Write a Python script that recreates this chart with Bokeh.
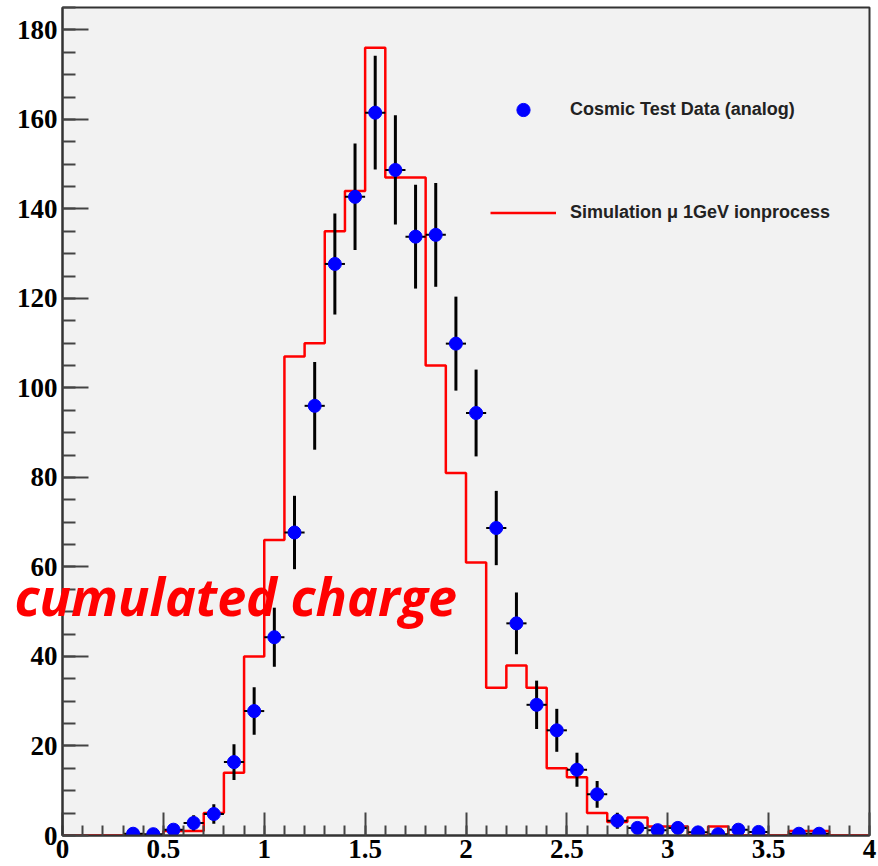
import numpy as np
from bokeh.plotting import figure
from bokeh.models import (SingleIntervalTicker, Legend, LegendItem, Range1d,
                          CustomJSTickFormatter)
from bokeh.core.properties import value
from bokeh.embed import file_html
from bokeh.resources import INLINE

# ---- data ----
bin_edges = np.round(np.arange(41) * 0.1, 1)
sim_counts = [0, 0, 0, 0, 0, 1, 1, 5, 14, 40,
              66, 107, 110, 135, 144, 176, 147, 147, 105, 81,
              61, 33, 38, 33, 15, 13, 5, 3, 4, 2,
              2, 0, 2, 0, 0, 0, 1, 1, 0, 0]
data_x = [0.35, 0.45, 0.55, 0.65, 0.75, 0.85, 0.95, 1.05, 1.15, 1.25,
          1.35, 1.45, 1.55, 1.65, 1.75, 1.85, 1.95, 2.05, 2.15, 2.25,
          2.35, 2.45, 2.55, 2.65, 2.75, 2.85, 2.95, 3.05, 3.15, 3.25,
          3.35, 3.45, 3.65, 3.75]
data_y = [0.4, 0.3, 1.3, 2.8, 4.8, 16.4, 27.8, 44.3, 67.7, 96.0,
          127.7, 142.7, 161.5, 148.7, 133.8, 134.2, 109.9, 94.4, 68.7, 47.4,
          29.2, 23.5, 14.7, 9.2, 3.3, 1.7, 1.2, 1.7, 0.7, 0.3,
          1.3, 0.8, 0.4, 0.4]
data_err = [0.6, 0.5, 1.1, 1.7, 2.2, 4.0, 5.3, 6.6, 8.2, 9.8,
            11.3, 11.9, 12.7, 12.2, 11.6, 11.6, 10.5, 9.7, 8.3, 6.9,
            5.4, 4.8, 3.8, 3.0, 1.8, 1.3, 1.1, 1.3, 0.8, 0.5,
            1.1, 0.9, 0.6, 0.6]
bin_half = 0.05
legend_labels = ["Cosmic Test Data (analog)", "Simulation \u03bc 1GeV ionprocess"]
overlay_text = ["cumulated charge"]
overlay_x = [1.955]
overlay_y = [53.6]

p = figure(width=878, height=866, output_backend="svg", toolbar_location=None,
           x_range=Range1d(0, 4), y_range=Range1d(0, 185),
           min_border_left=62, min_border_right=9, min_border_top=7,
           min_border_bottom=31)
p.background_fill_color = "#f2f2f2"
p.border_fill_color = "white"
p.outline_line_color = "#333333"
p.outline_line_width = 2
p.grid.visible = False

p.xaxis.ticker = SingleIntervalTicker(interval=0.5, num_minor_ticks=5)
p.yaxis.ticker = SingleIntervalTicker(interval=20, num_minor_ticks=4)
p.xaxis.formatter = CustomJSTickFormatter(code="return String(Math.round(tick*10)/10);")
for ax in (p.xaxis, p.yaxis):
    ax.axis_line_color = "#333333"
    ax.axis_line_width = 2
    ax.major_tick_line_color = "#444444"
    ax.major_tick_line_width = 2
    ax.minor_tick_line_color = "#444444"
    ax.minor_tick_line_width = 2
    ax.major_tick_out = 0
    ax.minor_tick_out = 0
    ax.major_label_text_font = "Liberation Serif"
    ax.major_label_text_font_style = "bold"
    ax.major_label_text_font_size = "27px"
    ax.major_label_text_color = "black"
p.xaxis.major_tick_in = 23
p.xaxis.minor_tick_in = 10
p.yaxis.major_tick_in = 26
p.yaxis.minor_tick_in = 13
p.xaxis.major_label_standoff = 4
p.yaxis.major_label_standoff = 5

hist = p.step(x=list(bin_edges), y=sim_counts + [sim_counts[-1]], mode="after",
              line_color="#ff0000", line_width=2.5)

x = np.array(data_x)
y = np.array(data_y)
e = np.array(data_err)
p.segment(x0=x, y0=y - e, x1=x, y1=y + e, line_color="black", line_width=3)
p.segment(x0=x - bin_half, y0=y, x1=x + bin_half, y1=y, line_color="black", line_width=2)
pts = p.scatter(x=x, y=y, size=13, fill_color="#0000ff", line_color="#0000ff")

legend = Legend(items=[LegendItem(label=legend_labels[0], renderers=[pts]),
                       LegendItem(label=legend_labels[1], renderers=[hist])],
                location=(428, 606), glyph_width=66, glyph_height=33,
                label_standoff=14, spacing=70, padding=0, margin=0,
                border_line_alpha=0, background_fill_alpha=0,
                label_text_font="Liberation Sans", label_text_font_style="bold",
                label_text_font_size="18px", label_height=33, label_text_color="#222222")
p.add_layout(legend)

p.text(x=overlay_x, y=overlay_y, text=overlay_text, text_align="right",
       text_baseline="alphabetic", text_font=value("Open Sans"),
       text_font_style="bold italic", text_font_size="52px", text_color="#ff0000",
       level="overlay")

open("out.html", "w").write(file_html(p, INLINE))
